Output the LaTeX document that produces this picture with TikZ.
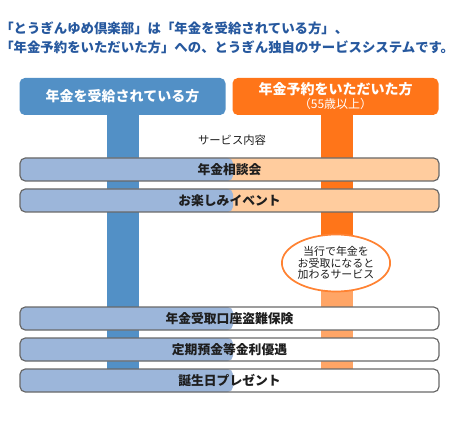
\documentclass[tikz,border=0pt]{standalone}
\usepackage{fontspec}
\setmainfont{Noto Sans CJK JP}
\usetikzlibrary{positioning,shapes.geometric,calc}
\definecolor{recvblue}{RGB}{82,144,198}
\definecolor{barblue}{RGB}{156,182,218}
\definecolor{planorange}{RGB}{255,117,25}
\definecolor{paleorange}{RGB}{255,165,102}
\definecolor{barorange}{RGB}{255,204,158}
\definecolor{bubbleedge}{RGB}{255,130,50}
\definecolor{titleblue}{RGB}{38,88,158}
\definecolor{edgegray}{RGB}{105,105,105}
\definecolor{inkgray}{RGB}{30,30,30}

\begin{document}
\begin{tikzpicture}[x=0.75pt, y=-0.75pt,
  headbox/.style={rounded corners=4pt, minimum width=206*0.75pt,
    minimum height=37*0.75pt, text=white, inner sep=0pt},
  servbar/.style={draw=edgegray, line width=0.9pt, rounded corners=4pt,
    minimum width=419*0.75pt, minimum height=23*0.75pt, inner sep=0pt,
    text=inkgray, font=\fontsize{9.6}{10}\selectfont\bfseries},
  introline/.style={anchor=base west, inner sep=0pt, text=titleblue,
    font=\fontsize{10.05}{12}\selectfont\bfseries}]

  % --- Parameters (pixels of the original layout) ---
  \pgfmathsetmacro{\colL}{107}   % left column, left edge
  \pgfmathsetmacro{\colR}{321}   % right column, left edge
  \pgfmathsetmacro{\colW}{32}    % column width
  \pgfmathsetmacro{\colTop}{115} % bottom of the headers
  \pgfmathsetmacro{\colEnd}{369} % top of the last bar
  \pgfmathsetmacro{\fadeY}{263}  % orange turns pale here (behind bubble)

  \useasboundingbox (0,0) rectangle (453,445);

  % --- Intro text ---
  \node[introline] (intro1) at (0,34)
    {「とうぎんゆめ倶楽部」は「年金を受給されている方」、};
  \node[introline] (intro2) at (0,53)
    {「年金予約をいただいた方」への、とうぎん独自のサービスシステムです。};

  % --- Columns ---
  \fill[recvblue] (\colL,\colTop) rectangle ({\colL+\colW},\colEnd);
  \fill[planorange] (\colR,\colTop) rectangle ({\colR+\colW},\fadeY);
  \fill[paleorange] (\colR,\fadeY) rectangle ({\colR+\colW},\colEnd);

  % --- Headers ---
  \node[headbox, fill=recvblue, font=\fontsize{10.5}{12}\selectfont\bfseries]
    (recv) at (122.5,96.5) {年金を受給されている方};
  \node[headbox, fill=planorange, align=center]
    (plan) at (335.5,96.5)
    {{\fontsize{10.5}{12}\selectfont\bfseries 年金予約をいただいた方}\\[-1.5pt]
     {\fontsize{9}{10}\selectfont （55歳以上）}};

  % --- Caption ---
  \node[text=inkgray, font=\fontsize{8.5}{10}\selectfont] (svc) at (232,140)
    {サービス内容};

  % --- Service bars ---
  \foreach \ytop/\txt/\rc [count=\i] in
    {158/年金相談会/barorange,
     189/お楽しみイベント/barorange,
     307/年金受取口座盗難保険/white,
     338/定期預金等金利優遇/white,
     369/誕生日プレゼント/white}
  {
    \node[servbar, fill=\rc,
      path picture={\fill[barblue] (path picture bounding box.north west)
        rectangle ($(path picture bounding box.south west)!0.5084!(path picture bounding box.south east)$);}]
      (bar\i) at (229.5,{\ytop+11.5}) {\txt};
  }

  % --- Bubble ---
  \node[ellipse, draw=bubbleedge, line width=1.3pt, fill=white,
        minimum width=107*0.75pt, minimum height=57*0.75pt, inner sep=0pt,
        align=center, text=inkgray, font=\fontsize{8.2}{8.6}\selectfont]
    (bonus) at (336,263) {当行で年金を\\お受取になると\\加わるサービス};

\end{tikzpicture}
\end{document}
